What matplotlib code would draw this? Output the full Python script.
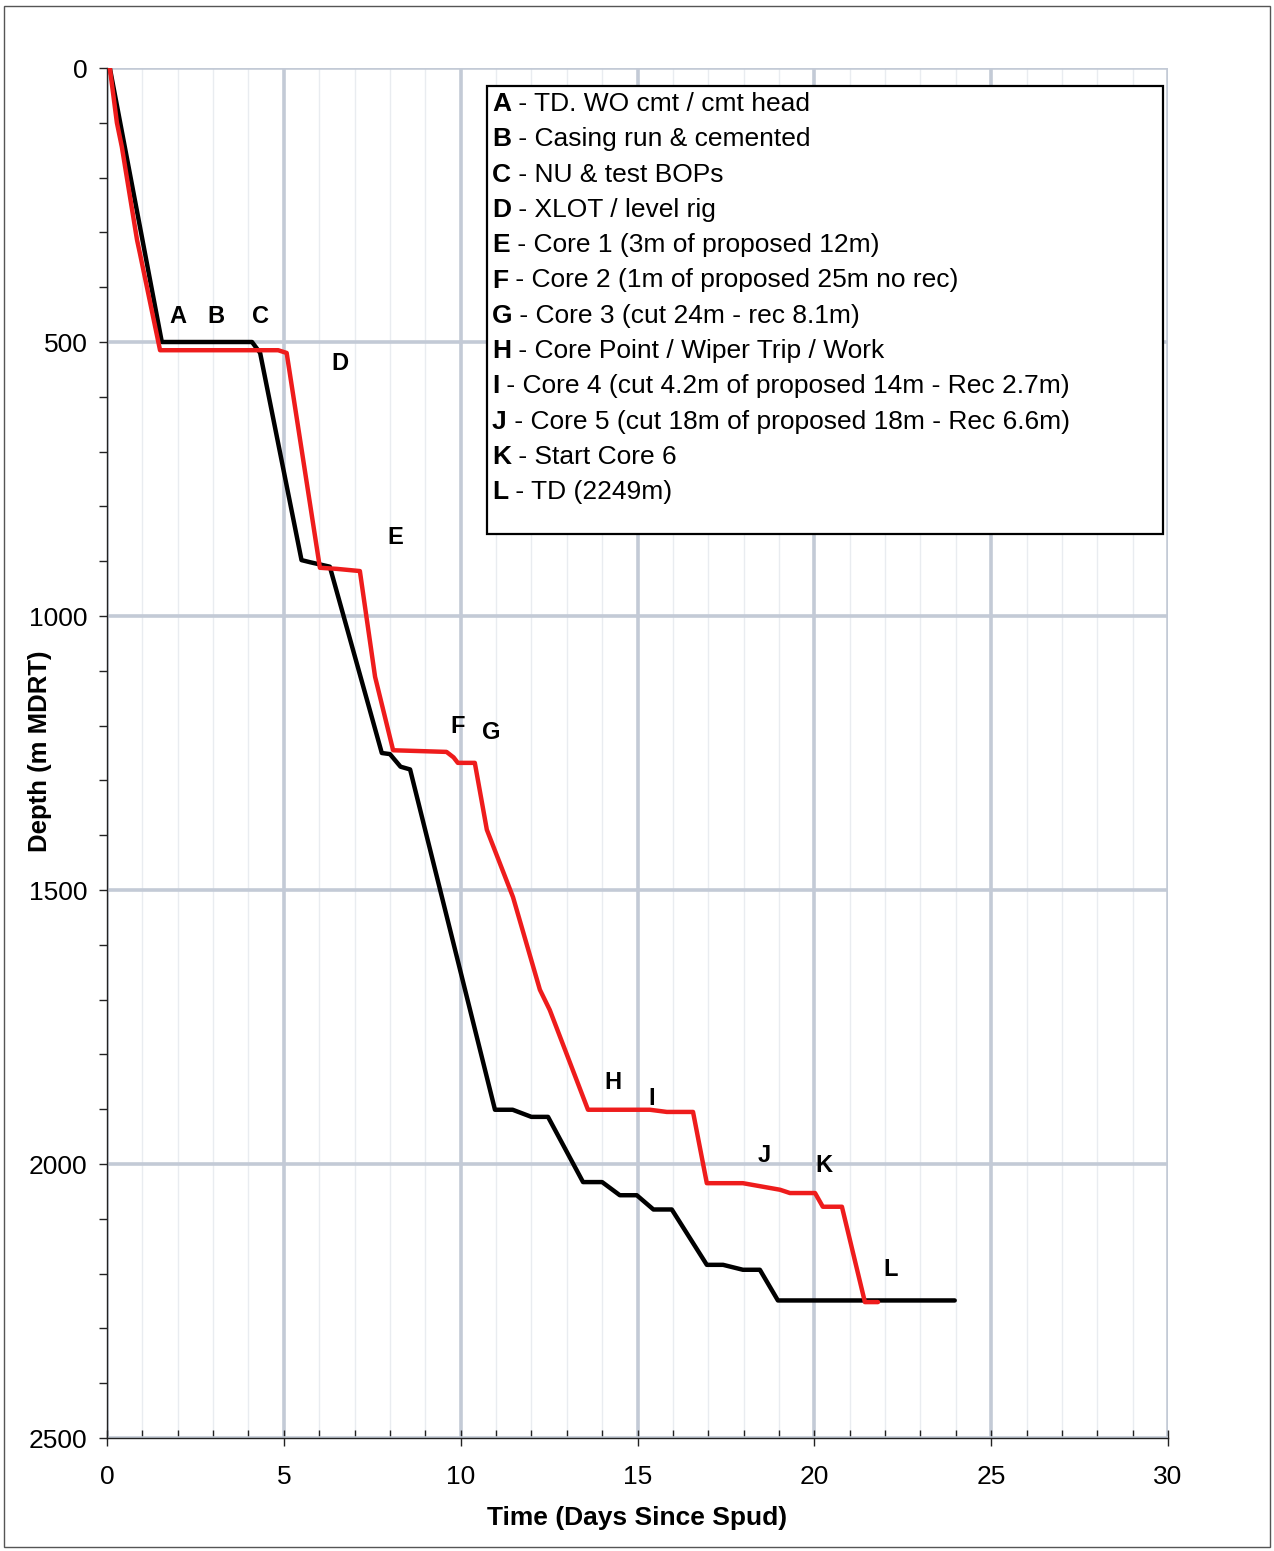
import matplotlib
matplotlib.use("Agg")
import matplotlib.pyplot as plt
from matplotlib.patches import Rectangle
from matplotlib.ticker import MultipleLocator

plt.rcParams['font.family'] = ['Liberation Sans', 'DejaVu Sans']

# ---- data ----
black_days = [0.08, 1.55, 4.1, 4.33, 5.5, 5.75, 6.3, 7.77, 8.0, 8.3, 8.57, 10.97, 11.47, 12.0, 12.47,
              13.46, 14.0, 14.5, 14.98, 15.45, 15.97, 16.96, 17.42, 17.98, 18.46, 18.97, 23.97]
black_depth = [0, 500, 500, 520, 898, 902, 910, 1250, 1252, 1275, 1280, 1901, 1901, 1914, 1914,
               2033, 2033, 2057, 2057, 2083, 2083, 2184, 2184, 2193, 2193, 2249, 2249]

red_days = [0.08, 0.28, 0.42, 0.85, 0.93, 1.5, 4.84, 5.08, 6.02, 6.5, 7.15, 7.58, 8.09, 9.6, 9.8, 9.92,
            10.4, 10.74, 11.48, 12.24, 12.52, 13.6, 15.35, 15.83, 16.57, 16.96, 17.98, 19.03, 19.31,
            20.02, 20.24, 20.78, 21.43, 21.8]
red_depth = [0, 100, 144, 314, 338, 515, 515, 520, 912, 914, 918, 1111, 1245, 1248, 1258, 1268,
             1268, 1390, 1513, 1682, 1719, 1901, 1901, 1905, 1905, 2035, 2035, 2047, 2053,
             2053, 2078, 2078, 2252, 2252]

event_letters = ['A', 'B', 'C', 'D', 'E', 'F', 'G', 'H', 'I', 'J', 'K', 'L']
event_days = [2.0, 3.08, 4.35, 6.59, 8.14, 9.9, 10.86, 14.3, 15.41, 18.57, 20.27, 22.17]
event_depth = [453, 453, 453, 540, 856, 1201, 1212, 1852, 1880, 1984, 2002, 2193]

legend_texts = [
    "TD. WO cmt / cmt head",
    "Casing run & cemented",
    "NU & test BOPs",
    "XLOT / level rig",
    "Core 1 (3m of proposed 12m)",
    "Core 2 (1m of proposed 25m no rec)",
    "Core 3 (cut 24m - rec 8.1m)",
    "Core Point / Wiper Trip / Work",
    "Core 4 (cut 4.2m of proposed 14m - Rec 2.7m)",
    "Core 5 (cut 18m of proposed 18m - Rec 6.6m)",
    "Start Core 6",
    "TD (2249m)",
]

# ---- figure ----
W, H = 1274, 1551
fig = plt.figure(figsize=(W / 100, H / 100), dpi=100)
fig.patch.set_facecolor('white')
ax = fig.add_axes([107 / W, 1 - 1438 / H, (1168 - 107) / W, (1438 - 68) / H])

ax.set_xlim(0, 30)
ax.set_ylim(2500, 0)

grid_major = '#c3cad6'
grid_minor = '#e9ecf0'
ax.xaxis.set_major_locator(MultipleLocator(5))
ax.xaxis.set_minor_locator(MultipleLocator(1))
ax.yaxis.set_major_locator(MultipleLocator(500))
ax.yaxis.set_minor_locator(MultipleLocator(100))
ax.grid(True, which='major', color=grid_major, linewidth=2.6, zorder=0)
ax.xaxis.grid(True, which='minor', color=grid_minor, linewidth=1.0, zorder=0)
ax.set_axisbelow(True)

for s in ['top', 'right']:
    ax.spines[s].set_visible(False)
for s in ['left', 'bottom']:
    ax.spines[s].set_color('#222222')
    ax.spines[s].set_linewidth(1.0)

ax.tick_params(axis='y', which='both', direction='out', length=6, width=1, color='#222222',
               labelsize=19, pad=8)
ax.tick_params(axis='x', which='major', direction='inout', length=11, width=1, color='#222222',
               labelsize=19, pad=14)
ax.tick_params(axis='x', which='minor', direction='in', length=5.5, width=1, color='#222222')

ax.plot(black_days, black_depth, color='black', linewidth=3.2, solid_joinstyle='round',
        solid_capstyle='round', zorder=3)
ax.plot(red_days, red_depth, color='#ee1c1c', linewidth=3.2, solid_joinstyle='round',
        solid_capstyle='round', zorder=4)

for lt, d, z in zip(event_letters, event_days, event_depth):
    ax.text(d, z, lt, fontsize=17, fontweight='bold', ha='center', va='center', zorder=5)

ax.set_xlabel('Time (Days Since Spud)', fontsize=19, fontweight='bold', labelpad=12)
ax.set_ylabel('Depth (m MDRT)', fontsize=18.5, fontweight='bold', va='center')
ax.yaxis.set_label_coords((40 - 107) / 1061, 0.5 - (751 - 753) / 1370)

# legend box
def ax_y(py):
    return 1 - (py - 68) / 1370

def ax_x(px):
    return (px - 107) / 1061

box = Rectangle((ax_x(487), ax_y(534)), ax_x(1163) - ax_x(487), ax_y(86) - ax_y(534),
                transform=ax.transAxes, facecolor='white', edgecolor='black', linewidth=1.6,
                zorder=6)
ax.add_patch(box)
for i, (lt, txt) in enumerate(zip(event_letters, legend_texts)):
    yy = ax_y(104 + 35.3 * i)
    t1 = ax.text(ax_x(492), yy, lt, transform=ax.transAxes, fontsize=19, fontweight='bold',
                 ha='left', va='center', zorder=7)
    ax.annotate(' - ' + txt, xy=(1, 0), xycoords=t1, ha='left', va='bottom', fontsize=19,
                zorder=7, annotation_clip=False)

# figure border
fig.add_artist(Rectangle((4 / W, 4 / H), (W - 8) / W, (H - 10) / H, transform=fig.transFigure,
                         fill=False, edgecolor='#555555', linewidth=1.0))

fig.savefig('out.png', dpi=100)
